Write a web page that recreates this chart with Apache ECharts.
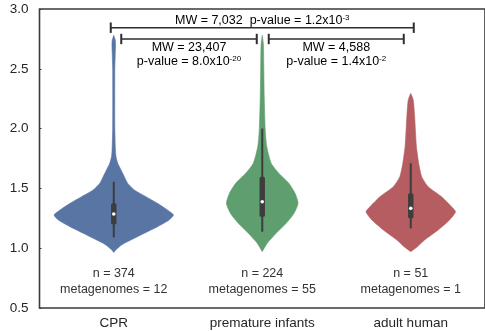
<!DOCTYPE html>
<html>
<head>
<meta charset="utf-8">
<script src="https://cdn.jsdelivr.net/npm/echarts@6/dist/echarts.min.js"></script>
<style>
  html, body { margin: 0; padding: 0; background: #fff; }
  #chart { width: 485px; height: 331px; }
</style>
</head>
<body>
<div id="chart"></div>
<script>
// ---- data ----
const categories = ['CPR', 'premature infants', 'adult human'];
const cellCounts = [374, 224, 51];
const metagenomeCounts = [12, 55, 1];

// Violin outlines: value levels (top to bottom) and relative density (CPR peak = 1)
const cprLevels  = [2.78, 2.74, 2.70, 2.62, 2.50, 2.30, 2.00, 1.821, 1.765, 1.71, 1.654, 1.598, 1.543, 1.487, 1.431, 1.375, 1.319, 1.278, 1.236, 1.18, 1.125, 1.083, 1.041, 1.013, 0.985, 0.965];
const cprDensity = [0, 0.025, 0.030, 0.025, 0.018, 0.017, 0.018, 0.028, 0.038, 0.067, 0.122, 0.178, 0.233, 0.345, 0.538, 0.733, 0.900, 1.000, 0.928, 0.733, 0.512, 0.345, 0.178, 0.095, 0.033, 0];

const prematureLevels  = [2.78, 2.70, 2.55, 2.27, 1.99, 1.85, 1.71, 1.626, 1.543, 1.459, 1.375, 1.292, 1.208, 1.125, 1.041, 0.971];
const prematureDensity = [0, 0.020, 0.025, 0.033, 0.050, 0.075, 0.150, 0.278, 0.445, 0.550, 0.600, 0.533, 0.400, 0.233, 0.083, 0];

const adultLevels  = [2.295, 2.24, 2.128, 1.988, 1.849, 1.71, 1.598, 1.514, 1.43, 1.347, 1.305, 1.236, 1.152, 1.069, 1.013, 0.971];
const adultDensity = [0, 0.042, 0.062, 0.078, 0.095, 0.133, 0.183, 0.292, 0.517, 0.683, 0.750, 0.650, 0.458, 0.233, 0.112, 0];

// Box summaries: [lower whisker, q1, median, q3, upper whisker]
const cprBox       = [1.09, 1.20, 1.286, 1.375, 1.556];
const prematureBox = [1.138, 1.263, 1.389, 1.598, 2.00];
const adultBox     = [1.166, 1.25, 1.333, 1.459, 1.71];

// Pairwise Mann-Whitney comparisons: [group a, group b]
const comparePairs = [[0, 2], [0, 1], [1, 2]];
const compareMW    = ['7,032', '23,407', '4,588'];
const compareP     = [['1.2', '-3'], ['8.0', '-20'], ['1.4', '-2']];

// y-axis ticks
const yMin = 0.5, yMax = 3.0, yStep = 0.5;

// ---- drawing ----
const violins = [
  { levels: cprLevels, density: cprDensity, box: cprBox, color: '#5975a4' },
  { levels: prematureLevels, density: prematureDensity, box: prematureBox, color: '#5f9e6e' },
  { levels: adultLevels, density: adultDensity, box: adultBox, color: '#b55d60' }
];
const FONT = '"Liberation Sans", Arial, Helvetica, sans-serif';
const TEXT = '#333333';
const PEAK_WIDTH = 0.402; // half-width of a density of 1, as a fraction of the band

function renderViolin(params, api) {
  const i = api.value(0);
  const v = violins[i];
  const band = api.size([1, 0])[0];
  const cx = api.coord([i, yMin])[0];
  const right = [], left = [];
  for (let k = v.levels.length - 1; k >= 0; k--) {
    const y = api.coord([i, v.levels[k]])[1];
    right.push([cx + v.density[k] * band * PEAK_WIDTH, y]);
  }
  for (let k = 0; k < v.levels.length; k++) {
    const y = api.coord([i, v.levels[k]])[1];
    left.push([cx - v.density[k] * band * PEAK_WIDTH, y]);
  }
  const b = v.box;
  const yy = b.map(val => api.coord([i, val])[1]);
  return {
    type: 'group',
    children: [
      { type: 'polygon', shape: { points: right.concat(left), smooth: 0.2 },
        style: { fill: v.color, stroke: v.color, lineWidth: 0.6 } },
      { type: 'rect', shape: { x: cx - 1, y: yy[4], width: 2, height: yy[0] - yy[4] },
        style: { fill: '#3d3d3d' } },
      { type: 'rect', shape: { x: cx - 2.7, y: yy[3], width: 5.4, height: yy[1] - yy[3], r: 1.5 },
        style: { fill: '#3d3d3d' } },
      { type: 'circle', shape: { cx: cx, cy: yy[2], r: 1.8 },
        style: { fill: '#ffffff' } }
    ]
  };
}

function renderCounts(params, api) {
  const i = api.value(0);
  const cx = api.coord([i, yMin])[0];
  const bottom = api.coord([i, yMin])[1];
  return {
    type: 'group',
    children: [
      { type: 'text', style: { text: 'n = ' + cellCounts[i], x: cx, y: bottom - 34,
          align: 'center', verticalAlign: 'middle', fill: TEXT, font: '12.5px ' + FONT } },
      { type: 'text', style: { text: 'metagenomes = ' + metagenomeCounts[i], x: cx, y: bottom - 18,
          align: 'center', verticalAlign: 'middle', fill: TEXT, font: '12.5px ' + FONT } }
    ]
  };
}

// bracket layout: [pixels below the top edge, inner offset a, inner offset b]
const bracketLayout = [[18.7, -3, -3], [30, 7.5, 5.5], [30, 6.5, 7]];

function renderBracket(params, api) {
  const j = api.value(0);
  const [a, b] = comparePairs[j];
  const [drop, offA, offB] = bracketLayout[j];
  const top = api.coord([0, yMax])[1];
  const y = top + drop;
  const x1 = api.coord([a, yMax])[0] + offA;
  const x2 = api.coord([b, yMax])[0] - offB;
  const mid = (x1 + x2) / 2;
  const line = '#2e2e2e';
  const children = [
    { type: 'line', shape: { x1: x1, y1: y, x2: x2, y2: y }, style: { stroke: line, lineWidth: 1.4 } },
    { type: 'line', shape: { x1: x1, y1: y - 5.2, x2: x1, y2: y + 5.2 }, style: { stroke: line, lineWidth: 2 } },
    { type: 'line', shape: { x1: x2, y1: y - 5.2, x2: x2, y2: y + 5.2 }, style: { stroke: line, lineWidth: 2 } }
  ];
  const rich = {
    t: { fontSize: 12.5, fontFamily: FONT, color: TEXT, lineHeight: 14 },
    s: { fontSize: 8, fontFamily: FONT, color: TEXT, lineHeight: 14, verticalAlign: 'top', padding: [0, 0, 5, 0] }
  };
  const p = compareP[j];
  if (j === 0) {
    children.push({ type: 'text', style: {
      text: '{t|MW = ' + compareMW[j] + '  p-value = ' + p[0] + 'x10}{s|' + p[1] + '}',
      rich: rich, x: mid, y: y - 7, align: 'center', verticalAlign: 'middle' } });
  } else {
    children.push({ type: 'text', style: {
      text: '{t|MW = ' + compareMW[j] + '}\n{t|p-value = ' + p[0] + 'x10}{s|' + p[1] + '}',
      rich: rich, x: mid, y: y + 15.7, align: 'center', verticalAlign: 'middle' } });
  }
  return { type: 'group', children: children };
}

const chart = echarts.init(document.getElementById('chart'), null, { renderer: 'canvas' });
chart.setOption({
  animation: false,
  backgroundColor: '#ffffff',
  grid: { left: 39.5, right: -2.5, top: 9, bottom: 23, show: true,
          borderColor: '#3a3a3a', borderWidth: 1.6, backgroundColor: 'transparent' },
  xAxis: {
    type: 'category', data: categories,
    axisLine: { show: false }, axisTick: { show: false },
    axisLabel: { color: '#262626', fontSize: 13.5, fontFamily: FONT, margin: 8 },
    splitLine: { show: false }
  },
  yAxis: {
    type: 'value', min: yMin, max: yMax, interval: yStep,
    axisLine: { show: false },
    axisTick: { show: true, inside: true, length: 2, lineStyle: { color: '#3a3a3a' } },
    axisLabel: { color: '#262626', fontSize: 13.5, fontFamily: FONT, margin: 11,
                 formatter: v => v.toFixed(1) },
    splitLine: { show: false }
  },
  series: [
    { type: 'custom', renderItem: renderViolin, data: [[0], [1], [2]], clip: false, silent: true },
    { type: 'custom', renderItem: renderCounts, data: [[0], [1], [2]], clip: false, silent: true },
    { type: 'custom', renderItem: renderBracket, data: [[0], [1], [2]], clip: false, silent: true }
  ]
});
</script>
</body>
</html>
